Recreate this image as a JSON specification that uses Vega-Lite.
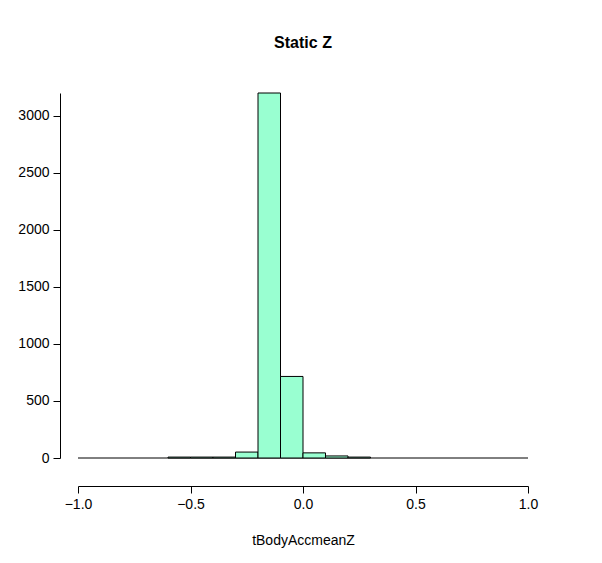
{
  "$schema": "https://vega.github.io/schema/vega-lite/v6.json",
  "autosize": "none",
  "width": 450,
  "height": 365,
  "padding": {"left": 78, "top": 93, "right": 74, "bottom": 105},
  "background": "white",
  "config": {"view": {"stroke": null}, "font": "Liberation Sans", "axis": {"labelFont": "Liberation Sans", "titleFont": "Liberation Sans"}},
  "title": {"text": "Static Z", "fontSize": 16, "fontWeight": "bold", "font": "Liberation Sans", "anchor": "middle", "offset": 42, "color": "black"},
  "data": {"values": [
    {"lo": -0.6, "hi": -0.5, "n": 8},
    {"lo": -0.5, "hi": -0.4, "n": 8},
    {"lo": -0.4, "hi": -0.3, "n": 8},
    {"lo": -0.3, "hi": -0.2, "n": 52},
    {"lo": -0.2, "hi": -0.1, "n": 3200},
    {"lo": -0.1, "hi": 0.0, "n": 715},
    {"lo": 0.0, "hi": 0.1, "n": 45},
    {"lo": 0.1, "hi": 0.2, "n": 18},
    {"lo": 0.2, "hi": 0.3, "n": 8}
  ]},
  "layer": [
    {
      "mark": {"type": "rule", "color": "black", "strokeWidth": 1},
      "data": {"values": [{"a": -1, "b": 1, "z": 0}]},
      "encoding": {
        "x": {"field": "a", "type": "quantitative"},
        "x2": {"field": "b"},
        "y": {"field": "z", "type": "quantitative"}
      }
    },
    {
      "mark": {"type": "rect", "fill": "#99FFD1", "stroke": "black", "strokeWidth": 1},
      "encoding": {
        "x": {"field": "lo", "type": "quantitative", "scale": {"domain": [-1, 1], "nice": false},
          "axis": {"values": [-1, -0.5, 0, 0.5, 1], "format": ".1f", "labelFlush": false, "grid": false, "offset": 28, "domainColor": "black", "tickColor": "black", "tickSize": 7, "labelFontSize": 14, "labelColor": "black", "labelPadding": 4, "title": "tBodyAccmeanZ", "titleFontSize": 14, "titleFontWeight": "normal", "titleColor": "black", "titlePadding": 22}},
        "x2": {"field": "hi"},
        "y": {"field": "n", "type": "quantitative", "scale": {"domain": [0, 3200], "nice": false},
          "axis": {"values": [0, 500, 1000, 1500, 2000, 2500, 3000], "format": "d", "labelFlush": false, "grid": false, "offset": 18, "domainColor": "black", "tickColor": "black", "tickSize": 7, "labelFontSize": 14, "labelColor": "black", "labelPadding": 4, "title": "Frequency", "titleFontSize": 14, "titleFontWeight": "normal", "titleColor": "black", "titleX": -72}},
        "y2": {"datum": 0}
      }
    }
  ]
}
